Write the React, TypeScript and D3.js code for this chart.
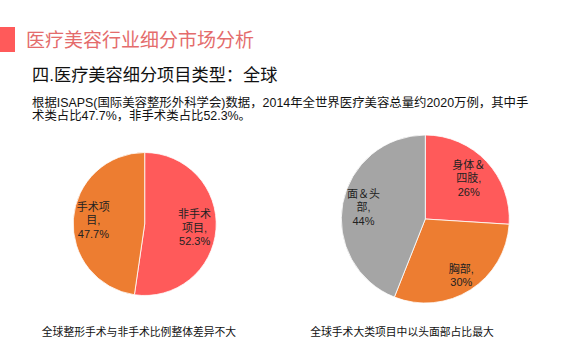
import React from "react";
import * as d3 from "d3";

const title = "医疗美容行业细分市场分析";
const subtitle = "四.医疗美容细分项目类型：全球";
const bodyLines = [
  "根据ISAPS(国际美容整形外科学会)数据，2014年全世界医疗美容总量约2020万例，其中手",
  "术类占比47.7%，非手术类占比52.3%。",
];

const leftNames = [["非手术", "项目,", "52.3%"], ["手术项", "目,", "47.7%"]];
const leftValues = [52.3, 47.7];
const leftCaption = "全球整形手术与非手术比例整体差异不大";

const rightNames = [["身体＆", "四肢,", "26%"], ["胸部,", "30%"], ["面＆头", "部,", "44%"]];
const rightValues = [26, 30, 44];
const rightCaption = "全球手术大类项目中以头面部占比最大";

const RED = "#FF5A5A";
const ORANGE = "#ED7D31";
const GRAY = "#A5A5A5";
const FONT = "'Liberation Sans', 'Noto Sans CJK SC', sans-serif";

type PieProps = {
  cx: number;
  cy: number;
  r: number;
  values: number[];
  names: string[][];
  colors: string[];
  labelFactors: number[];
};

function Pie({ cx, cy, r, values, names, colors, labelFactors }: PieProps) {
  const pie = d3.pie<number>().sort(null).value((d) => d);
  const arcs = pie(values);
  const arc = d3.arc<d3.PieArcDatum<number>>().innerRadius(0).outerRadius(r);
  return (
    <g transform={`translate(${cx},${cy})`}>
      {arcs.map((a, i) => (
        <path key={i} d={arc(a) || ""} fill={colors[i]} stroke="#fff" strokeWidth={0.8} />
      ))}
      {arcs.map((a, i) => {
        const lr = r * labelFactors[i];
        const la = d3.arc<d3.PieArcDatum<number>>().innerRadius(lr).outerRadius(lr);
        const [x, y] = la.centroid(a);
        const lines = names[i];
        const lh = 13.5;
        const y0 = y - ((lines.length - 1) * lh) / 2;
        return (
          <text key={i} x={x} y={y0} textAnchor="middle" fontSize={11} fontFamily={FONT} fill="#222" dominantBaseline="central">
            {lines.map((l, j) => (
              <tspan key={j} x={x} y={y0 + j * lh}>
                {l}
              </tspan>
            ))}
          </text>
        );
      })}
    </g>
  );
}

export default function App() {
  return (
    <svg width={570} height={360} style={{ position: "absolute", left: 0, top: 0, background: "#fff" }}>
      <rect x={0} y={0} width={570} height={360} fill="#fff" />
      <rect x={0} y={27} width={15} height={25} fill={RED} />
      <text x={26} y={46.5} fontSize={19} fontFamily={FONT} fill="#E46C6C">
        {title}
      </text>
      <text x={32} y={81} fontSize={17.2} fontFamily={FONT} fill="#111">
        {subtitle}
      </text>
      {bodyLines.map((l, i) => (
        <text key={i} x={32} y={106.5 + i * 13} fontSize={12.4} fontFamily={FONT} fill="#111">
          {l}
        </text>
      ))}
      <Pie cx={144.7} cy={224} r={71.5} values={leftValues} names={leftNames} colors={[RED, ORANGE]} labelFactors={[0.7, 0.72]} />
      <Pie cx={425.3} cy={219} r={84} values={rightValues} names={rightNames} colors={[RED, ORANGE, GRAY]} labelFactors={[0.71, 0.8, 0.75]} />
      <text x={139} y={335.5} textAnchor="middle" fontSize={10.8} fontFamily={FONT} fill="#111">
        {leftCaption}
      </text>
      <text x={402} y={335.5} textAnchor="middle" fontSize={10.8} fontFamily={FONT} fill="#111">
        {rightCaption}
      </text>
    </svg>
  );
}
